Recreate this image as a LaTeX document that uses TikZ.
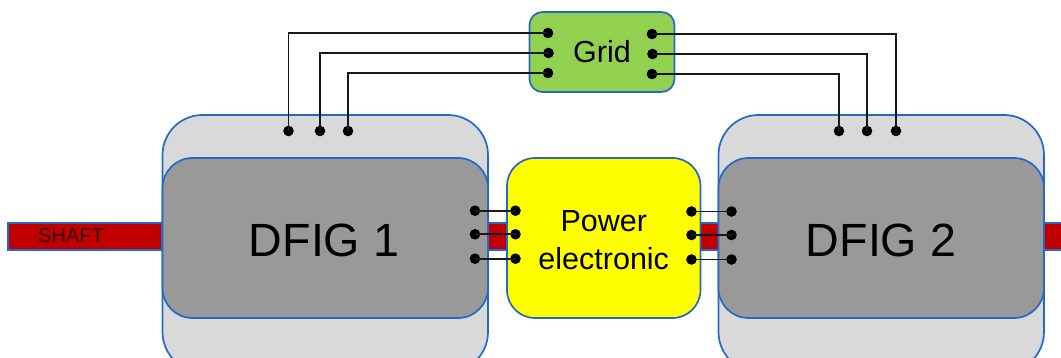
\documentclass[tikz,border=0pt]{standalone}
\usepackage{fontspec}
\setmainfont{Liberation Sans}
\definecolor{edgeblue}{HTML}{2468C8}
\definecolor{shaftred}{HTML}{C00000}
\definecolor{outergray}{HTML}{D9D9D9}
\definecolor{innergray}{HTML}{999999}
\definecolor{gridgreen}{HTML}{92D050}
\definecolor{powerfill}{HTML}{FFFF00}
\tikzset{
  x=1pt,y=-1pt,
  boxbase/.style={draw=edgeblue,line width=1.7pt,inner sep=0pt,outer sep=0pt,align=center,text=black},
  outerbox/.style={boxbase,fill=outergray,rounded corners=40pt,minimum width=325.5pt,minimum height=257pt},
  innerbox/.style={boxbase,fill=innergray,rounded corners=30pt,minimum width=325.5pt,minimum height=160pt},
  biglabel/.style={font=\fontsize{46.6}{50}\selectfont,text=black,inner sep=0pt},
  shaftbar/.style={boxbase,fill=shaftred,minimum height=27pt},
  terminal/.style={circle,fill=black,inner sep=0pt,outer sep=0pt,minimum size=10.6pt},
  wire/.style={draw=black!90,line width=1.9pt},
}
\begin{document}
\begin{tikzpicture}
\clip (0,0) rectangle (1061,358);
% shaft segments
\node[shaftbar,minimum width=154pt] (shaftA) at (85,236.5) {};
\node[shaftbar,minimum width=19pt] (shaftB) at (497.5,236.5) {};
\node[shaftbar,minimum width=18pt] (shaftC) at (709.5,236.5) {};
\node[shaftbar,minimum width=30pt] (shaftD) at (1059,236.5) {};
\node[font=\fontsize{20}{22}\selectfont,text=black!70!shaftred] (shaftlabel) at (71,235.5) {SHAFT};
% machines
\node[outerbox] (outerA) at (325.25,243.5) {};
\node[innerbox] (dfigA) at (325.25,238) {};
\node[biglabel] (labelA) at (324,240) {DFIG 1};
\node[outerbox] (outerB) at (881.25,243.5) {};
\node[innerbox] (dfigB) at (881.25,238) {};
\node[biglabel] (labelB) at (881,240) {DFIG 2};
% grid and power electronics
\node[boxbase,fill=gridgreen,rounded corners=13pt,minimum width=145pt,minimum height=80pt,font=\fontsize{30.5}{36}\selectfont] (grid) at (602,52) {Grid};
\node[boxbase,fill=powerfill,rounded corners=28pt,minimum width=193.5pt,minimum height=160pt] (power) at (603.75,238) {};
\node[font=\fontsize{30.5}{37.5}\selectfont,align=center,text=black,inner sep=0pt] (powerlabel) at (603.75,240) {Power\\electronic};
% terminals
\foreach \n/\x/\y in {gl1/548/33,gl2/548.5/53,gl3/548/73,gr1/652/34,gr2/652.5/54,gr3/652/74,
  ma1/288.5/131,ma2/320/131,ma3/348/131,mb1/839/131,mb2/867/131,mb3/896/131,
  ar1/475/210.7,ar2/475/234.3,ar3/475/258.7,pl1/515.5/210.7,pl2/515.5/234.3,pl3/515.5/258.7,
  pr1/691.5/211.5,pr2/691.5/235,pr3/691.5/259.5,bl1/731.5/211.5,bl2/731.5/235,bl3/731.5/259.5}
  {\node[terminal] (\n) at (\x,\y) {};}
% connectors
\draw[wire] (gl1.center) -| (ma1.center);
\draw[wire] (gl2.center) -| (ma2.center);
\draw[wire] (gl3.center) -| (ma3.center);
\draw[wire] (gr1.center) -| (mb3.center);
\draw[wire] (gr2.center) -| (mb2.center);
\draw[wire] (gr3.center) -| (mb1.center);
\foreach \i in {1,2,3}{
  \draw[wire] (ar\i.center) -- (pl\i.center);
  \draw[wire] (pr\i.center) -- (bl\i.center);
}
\end{tikzpicture}
\end{document}
